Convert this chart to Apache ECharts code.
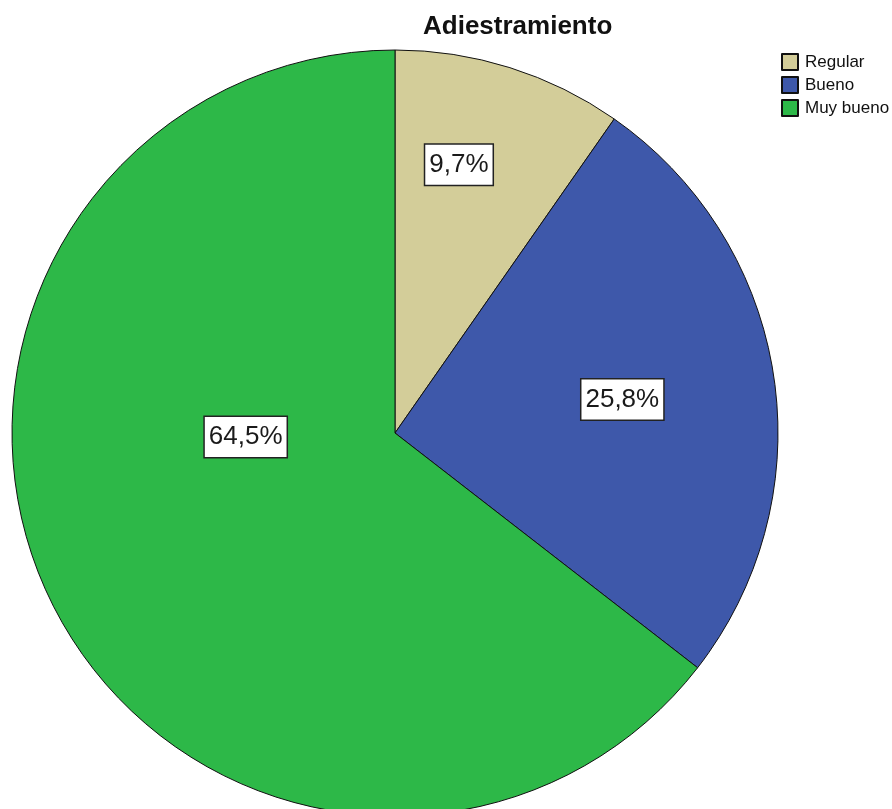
<!DOCTYPE html>
<html>
<head>
<meta charset="utf-8">
<script src="https://cdn.jsdelivr.net/npm/echarts@6/dist/echarts.min.js"></script>
<style>
  html, body { margin: 0; padding: 0; background: #ffffff; }
  #chart { width: 892px; height: 809px; }
</style>
</head>
<body>
<div id="chart"></div>
<script>
// Distribución de respuestas sobre adiestramiento (porcentajes)
const categories = ['Regular', 'Bueno', 'Muy bueno'];
const percentages = [9.7, 25.8, 64.5];
const sliceColors = ['#d3cd99', '#3e58aa', '#2db848'];

// Where each value box sits: angle in degrees clockwise from 12 o'clock,
// distance as a fraction of the pie radius.
const labelAnchors = [
  { angle: 13.4, dist: 0.72 },
  { angle: 81.6, dist: 0.60 },
  { angle: 268.5, dist: 0.39 }
];

const pieCenter = [395, 433];
const pieRadius = 383;

const chart = echarts.init(document.getElementById('chart'), null, { renderer: 'canvas' });

const fmt = v => v.toFixed(1).replace('.', ',') + '%';

chart.setOption({
  animation: false,
  backgroundColor: '#ffffff',
  title: {
    text: 'Adiestramiento',
    left: 423,
    top: 14,
    padding: 0,
    textStyle: {
      fontFamily: 'Liberation Sans, Arial, sans-serif',
      fontSize: 26,
      fontWeight: 'bold',
      color: '#111111'
    }
  },
  legend: {
    orient: 'vertical',
    left: 781,
    top: 53,
    padding: 0,
    itemWidth: 16,
    itemHeight: 16,
    itemGap: 5,
    icon: 'rect',
    selectedMode: false,
    textStyle: {
      fontFamily: 'Liberation Sans, Arial, sans-serif',
      fontSize: 17,
      lineHeight: 17,
      color: '#111111',
      padding: [0, 0, 0, 2]
    },
    data: categories
  },
  series: [{
    type: 'pie',
    center: pieCenter,
    radius: pieRadius,
    startAngle: 90,
    clockwise: true,
    silent: true,
    itemStyle: { borderColor: '#111111', borderWidth: 1 },
    label: {
      show: true,
      position: 'inside',
      formatter: p => fmt(p.value),
      fontFamily: 'Liberation Sans, Arial, sans-serif',
      fontSize: 26,
      lineHeight: 29,
      color: '#1a1a1a',
      backgroundColor: '#ffffff',
      borderColor: '#222222',
      borderWidth: 1.5,
      padding: [6, 4, 5, 4]
    },
    labelLine: { show: false },
    labelLayout: function (params) {
      const a = labelAnchors[params.dataIndex];
      const rad = a.angle * Math.PI / 180;
      return {
        x: pieCenter[0] + pieRadius * a.dist * Math.sin(rad),
        y: pieCenter[1] - pieRadius * a.dist * Math.cos(rad),
        align: 'center',
        verticalAlign: 'middle'
      };
    },
    data: categories.map((name, i) => ({
      name: name,
      value: percentages[i],
      itemStyle: { color: sliceColors[i] }
    }))
  }]
});
</script>
</body>
</html>
